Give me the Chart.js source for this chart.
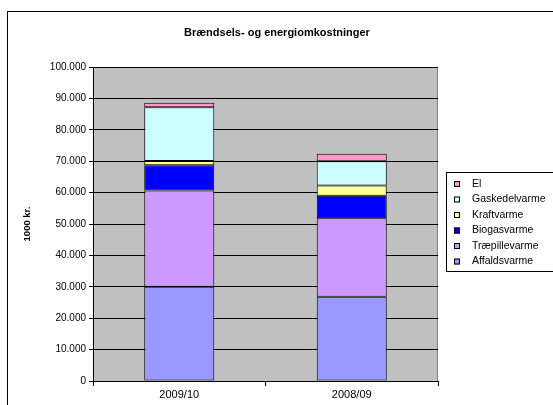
<!DOCTYPE html>
<html>
<head>
<meta charset="utf-8">
<script src="https://cdn.jsdelivr.net/npm/chart.js@4/dist/chart.umd.min.js"></script>
<style>
  html, body { margin: 0; padding: 0; background: #fff; }
  #wrap { width: 553px; height: 405px; position: relative; }
</style>
</head>
<body>
<div id="wrap"><canvas id="chart" width="553" height="405"></canvas></div>
<script>
// data
const years = ['2009/10', '2008/09'];
const affaldsvarme = [30000, 26850];
const traepillevarme = [30700, 24950];
const biogasvarme = [8000, 7200];
const kraftvarme = [1400, 3300];
const gaskedelvarme = [17100, 7700];
const el = [1400, 2400];
const yTicks = [0, 10000, 20000, 30000, 40000, 50000, 60000, 70000, 80000, 90000, 100000];

const FONT = '"Liberation Sans", Arial, sans-serif';

// danish thousand separator
const fmt = v => v === 0 ? '0' : String(v).replace(/\B(?=(\d{3})+(?!\d))/g, '.');

const mk = (label, data, color) => ({
    label: label,
    data: data,
    backgroundColor: color,
    borderColor: '#000',
    borderWidth: 1,
    borderSkipped: false,
});

// frame, title, y title and legend drawn like the excel original
const decor = {
    id: 'decor',
    beforeDraw(chart) {
        const { ctx, chartArea: a } = chart;
        ctx.save();
        ctx.fillStyle = '#c0c0c0';
        ctx.fillRect(a.left, a.top, a.right - a.left, a.bottom - a.top);
        ctx.strokeStyle = '#808080';
        ctx.lineWidth = 1;
        ctx.beginPath();
        ctx.moveTo(a.left, a.top + 0.5);
        ctx.lineTo(a.right - 0.5, a.top + 0.5);
        ctx.lineTo(a.right - 0.5, a.bottom);
        ctx.stroke();
        ctx.restore();
    },
    afterDraw(chart) {
        const { ctx, chartArea: a } = chart;
        ctx.save();
        ctx.strokeStyle = '#000';
        ctx.lineWidth = 1;
        ctx.strokeRect(7.5, 11.5, 700, 600);

        ctx.fillStyle = '#000';
        ctx.textAlign = 'center';
        ctx.textBaseline = 'middle';
        ctx.font = 'bold 11px ' + FONT;
        ctx.fillText('Brændsels- og energiomkostninger', 277, 33);

        ctx.save();
        ctx.translate(27, (a.top + a.bottom) / 2);
        ctx.rotate(-Math.PI / 2);
        ctx.font = 'bold 9.5px ' + FONT;
        ctx.fillText('1000 kr.', 0, 0);
        ctx.restore();

        // legend box
        const lx = 446, ly = 172, lw = 120, lh = 99;
        ctx.fillStyle = '#fff';
        ctx.fillRect(lx, ly, lw, lh);
        ctx.strokeRect(lx + 0.5, ly + 0.5, lw, lh);
        const sets = chart.data.datasets.slice().reverse();
        ctx.font = '10.5px ' + FONT;
        ctx.textAlign = 'left';
        sets.forEach((ds, i) => {
            const y = 184 + i * 15.5;
            ctx.fillStyle = ds.backgroundColor;
            ctx.fillRect(454, y - 3, 6, 6);
            ctx.strokeStyle = '#000';
            ctx.strokeRect(454.5, y - 2.5, 5, 5);
            ctx.fillStyle = '#000';
            ctx.fillText(ds.label, 472, y);
        });
        ctx.restore();
    }
};

new Chart(document.getElementById('chart'), {
    type: 'bar',
    data: {
        labels: years,
        datasets: [
            mk('Affaldsvarme', affaldsvarme, '#9999ff'),
            mk('Træpillevarme', traepillevarme, '#cc99ff'),
            mk('Biogasvarme', biogasvarme, '#0000ff'),
            mk('Kraftvarme', kraftvarme, '#ffff99'),
            mk('Gaskedelvarme', gaskedelvarme, '#ccffff'),
            mk('El', el, '#ff99cc'),
        ],
    },
    options: {
        responsive: false,
        animation: false,
        layout: { padding: { left: 15, top: 67, right: 115, bottom: 0 } },
        categoryPercentage: 1,
        barPercentage: 0.406,
        plugins: {
            legend: { display: false },
            title: { display: false },
            tooltip: { enabled: false },
        },
        scales: {
            x: {
                stacked: true,
                grid: { display: true, drawOnChartArea: false, offset: true, color: '#000', tickLength: 5 },
                border: { color: '#000' },
                ticks: { color: '#000', font: { family: FONT, size: 11 }, padding: 2 },
                afterFit: s => { s.height = 24; },
            },
            y: {
                stacked: true,
                min: 0,
                max: 100000,
                afterBuildTicks: s => { s.ticks = yTicks.map(v => ({ value: v })); },
                grid: { color: '#000', tickLength: 4 },
                border: { color: '#000' },
                ticks: { color: '#000', font: { family: FONT, size: 10 }, padding: 3, callback: v => fmt(v) },
                afterFit: s => { s.width = 78; },
            },
        },
    },
    plugins: [decor],
});
</script>
</body>
</html>
